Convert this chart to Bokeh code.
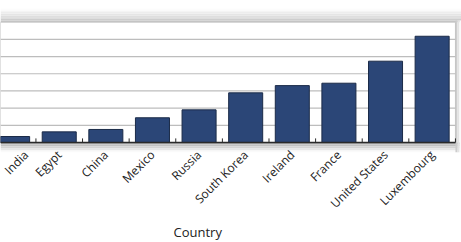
from math import pi
from bokeh.plotting import figure
from bokeh.models import (Range1d, LinearAxis, FixedTicker, Title, ColumnDataSource)
from bokeh.embed import file_html
from bokeh.resources import INLINE

countries = ["India", "Egypt", "China", "Mexico", "Russia", "South Korea",
             "Ireland", "France", "United States", "Luxembourg"]
values = [3.5, 6.2, 7.6, 14.4, 19.0, 28.9, 33.1, 34.5, 47.3, 61.8]
grid_ticks = [10, 20, 30, 40, 50, 60]
x_title = "Country"
y_top = 70

xs = list(range(len(countries)))
x_start, x_end = -0.26, 9.63
last_edge = len(countries) - 0.5
y_start, y_end = -5.8, 82.6

p = figure(width=461, height=242, output_backend="svg", toolbar_location=None,
           x_range=Range1d(x_start, x_end), y_range=Range1d(y_start, y_end),
           x_axis_location=None, y_axis_location=None,
           min_border=0, min_border_left=0, min_border_right=0, min_border_top=0,
           min_border_bottom=0, frame_height=152, frame_width=461)
p.outline_line_color = None
p.background_fill_color = "white"
p.border_fill_color = "white"
p.xgrid.visible = False
p.ygrid.visible = False

# drop-shadow above the plot area (fades to white upward)
n = 8
span = 7.8
for k in range(n):
    h = span / n
    b = y_top + k * h
    shade = int(196 + (252 - 196) * (k / (n - 1)) ** 0.9)
    col = "#%02x%02x%02x" % (shade, shade, shade)
    p.quad(left=x_start, right=x_end, bottom=b, top=b + h, fill_color=col, line_color=None)
# shadow below axis
n2 = 5
for k in range(n2):
    h = -y_start / n2
    t = -k * h
    shade = int(175 + (250 - 175) * (k / (n2 - 1)))
    col = "#%02x%02x%02x" % (shade, shade, shade)
    p.quad(left=x_start, right=x_end, bottom=t - h, top=t, fill_color=col, line_color=None)
# shadow to right
n3 = 3
for k in range(n3):
    w = (x_end - last_edge) / n3
    l = last_edge + k * w
    shade = int(205 + (250 - 205) * (k / (n3 - 1)))
    col = "#%02x%02x%02x" % (shade, shade, shade)
    p.quad(left=l, right=l + w, bottom=y_start, top=y_top + 1.0, fill_color=col, line_color=None)

# white plot area
p.quad(left=x_start, right=last_edge, bottom=0, top=y_top, fill_color="white",
       line_color="#c4c4c4", line_width=1)

# grid lines
p.segment(x0=[x_start] * len(grid_ticks), x1=[last_edge] * len(grid_ticks),
          y0=grid_ticks, y1=grid_ticks, line_color="#bdbdbd", line_width=1.2)

src = ColumnDataSource(dict(x=xs, top=values))
p.vbar(x="x", top="top", bottom=0, width=0.73, source=src,
       fill_color="#2b4677", line_color="#1b2b48", line_width=1)

# axis line + inner tick marks at category boundaries
p.segment(x0=[x_start], x1=[last_edge], y0=[0], y1=[0], line_color="#2a2a2a", line_width=1.5)
edges = [i + 0.5 for i in xs]
p.segment(x0=edges, x1=edges, y0=[0] * len(edges), y1=[2.4] * len(edges),
          line_color="#2a2a2a", line_width=1)

label_shift = 0.0
label_pos = [i + label_shift for i in xs]
ax = LinearAxis(ticker=FixedTicker(ticks=label_pos),
                major_label_overrides={lp: c for lp, c in zip(label_pos, countries)})
ax.axis_line_color = None
ax.major_tick_line_color = None
ax.minor_tick_line_color = None
ax.major_tick_out = 0
ax.major_tick_in = 0
ax.major_label_orientation = pi / 4
ax.major_label_standoff = 0
ax.major_label_text_font = "Open Sans"
ax.major_label_text_font_size = "12px"
ax.major_label_text_color = "#222222"
p.add_layout(ax, "below")

t = Title(text=x_title, align="left", offset=173, text_font="Open Sans",
          text_font_size="13px", text_font_style="normal", text_color="#222222",
          standoff=0)
p.add_layout(t, "below")

open("out.html", "w").write(file_html(p, INLINE))
